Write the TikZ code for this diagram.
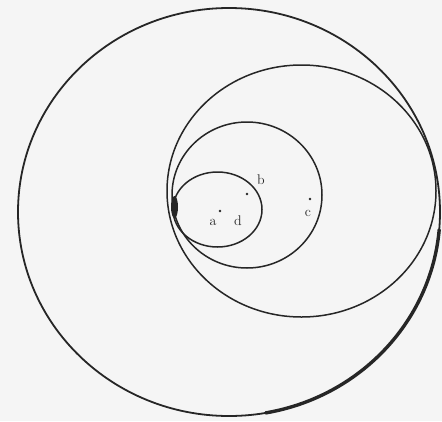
\documentclass[tikz,border=0pt]{standalone}
\begin{document}
\begin{tikzpicture}[x=1pt,y=-1pt,
  ring/.style={draw=black!85, line width=1.5pt},
  lbl/.style={font=\fontsize{14}{15}\selectfont, inner sep=0pt, text=black!85},
  pt/.style={fill=black!85}]
\fill[black!4] (0,0) rectangle (442,421);
\useasboundingbox (0,0) rectangle (442,421);
% outer circle
\draw[ring, line width=1.8pt] (229,212) ellipse [x radius=211pt, y radius=204pt];
\draw[draw=black!85, line width=3.4pt, line cap=round] (229,212) ++(-5:211pt and 204pt) arc [start angle=-5, end angle=-80, x radius=211pt, y radius=204pt];
% second circle
\draw[ring] (301.5,191) ellipse [x radius=134.5pt, y radius=126pt];
% third circle
\draw[ring] (247,195) ellipse [x radius=75pt, y radius=73pt];
% small circle
\draw[ring] (217.5,209.5) ellipse [x radius=44.5pt, y radius=37.5pt];
% thick touching spot
\fill[black!85] (174.5,207) ellipse [x radius=3.5pt, y radius=11pt];
% points and labels
\fill[pt] (220,211) circle (1.4pt);
\node[lbl] (a) at (213,222) {a};
\node[lbl] (d) at (238,221) {d};
\fill[pt] (247,194) circle (1.4pt);
\node[lbl] (b) at (261,180) {b};
\fill[pt] (310,199) circle (1.4pt);
\node[lbl] (c) at (308,213) {c};
\end{tikzpicture}
\end{document}
